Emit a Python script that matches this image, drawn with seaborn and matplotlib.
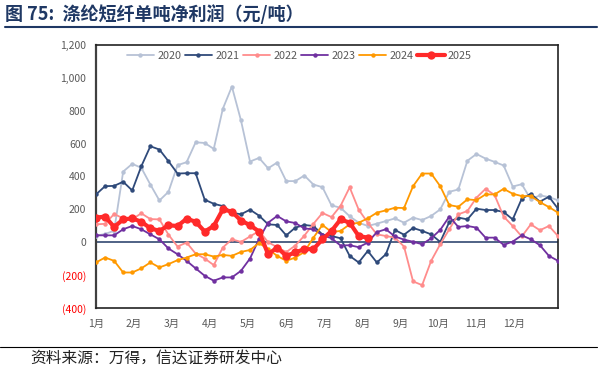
import numpy as np
import pandas as pd
import matplotlib
matplotlib.use("Agg")
import matplotlib.pyplot as plt
import seaborn as sns
from matplotlib.ticker import FuncFormatter

sns.set_style("white")
plt.rcParams['font.family'] = ['Noto Sans CJK SC', 'DejaVu Sans']
plt.rcParams['axes.unicode_minus'] = False

title = "图 75:  涤纶短纤单吨净利润（元/吨）"
source = "资料来源：万得，信达证券研发中心"
months = ["1月", "2月", "3月", "4月", "5月", "6月", "7月", "8月", "9月", "10月", "11月", "12月"]
years = ["2020", "2021", "2022", "2023", "2024", "2025"]

y2020 = [40, 50, 70, 430, 477, 453, 351, 254, 307, 469, 487, 608, 604, 568, 812, 947, 742, 491, 513, 450,
         485, 372, 372, 406, 351, 335, 224, 210, 158, 119, 99, 113, 129, 145, 119, 150, 135, 160, 200, 307,
         321, 496, 537, 509, 489, 467, 339, 353, 261, 285, 275, 255]
y2021 = [291, 341, 343, 368, 315, 462, 584, 564, 493, 418, 420, 420, 259, 234, 220, 180, 170, 198, 162, 109,
         105, 42, 89, 105, 99, 47, 38, 24, -83, -123, -53, -123, -73, 75, 46, 87, 69, 48, 2, 123,
         150, 139, 204, 196, 196, 184, 139, 265, 295, 247, 277, 204]
y2022 = [109, 112, 172, 145, 140, 176, 141, 139, 46, -26, -2, -69, -99, -139, -32, 18, 2, 35, 69, 0,
         -30, -60, -20, 40, 112, 178, 153, 222, 334, 198, 119, 48, 38, 28, -26, -238, -261, -113, -12, 79,
         170, 190, 271, 325, 287, 156, 99, 35, 109, 73, 99, 38]
y2023 = [42, 42, 42, 79, 99, 79, 48, 18, -38, -73, -113, -159, -204, -234, -214, -214, -174, -99, 20, 119,
         160, 127, 117, 84, 79, 43, 24, -20, -18, -30, -2, 62, 79, 35, 16, 3, -12, 24, 75, 156,
         93, 99, 89, 28, 28, -16, 4, 42, 18, -18, -83, -113]
y2024 = [-123, -93, -113, -184, -184, -159, -123, -153, -133, -109, -93, -73, -73, -87, -77, -83, -59, -47, -5, -42,
         -83, -113, -93, -59, 28, 105, 62, 69, 109, 119, 145, 180, 194, 210, 208, 341, 418, 418, 341, 226,
         216, 261, 256, 291, 291, 325, 295, 281, 281, 244, 214, 180]
y2025 = [150, 156, 93, 139, 145, 125, 85, 69, 103, 99, 143, 125, 65, 99, 200, 186, 132, 104, 65, -73,
         -32, -83, -62, -42, -42, 18, 69, 139, 119, 38, 28]

series = [y2020, y2021, y2022, y2023, y2024, y2025]
colors = ["#b7c2d6", "#2f4a7a", "#ff8c8c", "#7030a0", "#ff9900", "#ff2a2a"]

fig = plt.figure(figsize=(6.02, 3.71), dpi=100)
ax = fig.add_axes([96 / 602, 1 - 308 / 371, 462 / 602, 263 / 371])

for yr, vals, c in zip(years, series, colors):
    x = np.arange(len(vals))
    if yr == "2025":
        sns.lineplot(x=x, y=vals, ax=ax, color=c, lw=3.0, marker='o', markersize=6,
                     markeredgewidth=0, label=yr, zorder=5)
    else:
        sns.lineplot(x=x, y=vals, ax=ax, color=c, lw=1.3, marker='o', markersize=3.2,
                     markeredgewidth=0, label=yr, zorder=3)

ax.axhline(0, color="#1f3864", lw=1.1, zorder=2)

ax.set_xlim(0, 51)
ax.set_ylim(-400, 1200)
ax.set_yticks(np.arange(-400, 1201, 200))


def fmt(v, pos):
    v = int(round(v))
    if v < 0:
        return "({:,})".format(-v)
    return "{:,}".format(v)


ax.yaxis.set_major_formatter(FuncFormatter(fmt))
ax.set_xticks(np.arange(12) * 4.2)
ax.set_xticklabels(months)
ax.tick_params(axis='both', length=0, labelsize=7.5, labelcolor="#595959")
ax.tick_params(axis='x', pad=8)
ax.tick_params(axis='y', pad=7)
for lab in ax.get_yticklabels():
    if lab.get_text().startswith("("):
        lab.set_color("#ff0000")
ax.set_xlabel("")
ax.set_ylabel("")

for s in ax.spines.values():
    s.set_visible(True)
    s.set_color("#222222")
    s.set_linewidth(1.2)
ax.spines['left'].set_color("#404040")
ax.spines['left'].set_linewidth(1.6)

leg = ax.legend(loc='center', bbox_to_anchor=(0.44, 0.96), ncol=6, frameon=False,
                fontsize=7.8, handlelength=2.5, handletextpad=0.3, columnspacing=0.35,
                borderaxespad=0)
for t in leg.get_texts():
    t.set_color("#595959")

fig.text(5 / 602, 1 - 14 / 371, title, fontsize=13, fontweight='bold', color="#1f3864",
         va='center', ha='left')
fig.add_artist(plt.Line2D([5 / 602, 597 / 602], [1 - 27 / 371, 1 - 27 / 371],
                          color="#1f3864", lw=1.5, transform=fig.transFigure))
fig.add_artist(plt.Line2D([0 / 602, 597 / 602], [1 - 347 / 371, 1 - 347 / 371],
                          color="#000000", lw=0.8, transform=fig.transFigure))
fig.text(30 / 602, 1 - 358 / 371, source, fontsize=11.3, color="#222222", va='center', ha='left',
         style='italic')

fig.savefig("out.png", dpi=100)
